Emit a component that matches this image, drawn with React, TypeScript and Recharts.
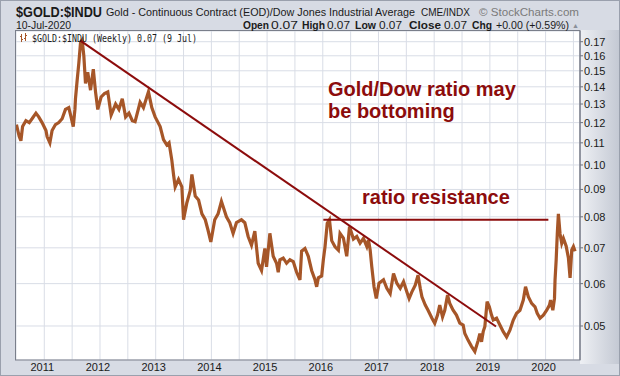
import { LineChart, Line, XAxis, YAxis, CartesianGrid, ReferenceLine } from "recharts";

// weekly Gold/Dow ratio, sampled off the chart (time in decimal years)
const dateYears = [
  2010.5, 2010.55, 2010.58, 2010.61, 2010.67, 2010.73, 2010.78, 2010.85, 2010.9, 2010.96,
  2011.03, 2011.05, 2011.1, 2011.14, 2011.2, 2011.26, 2011.32, 2011.38, 2011.44, 2011.48,
  2011.52, 2011.55, 2011.56, 2011.59, 2011.62, 2011.65, 2011.68, 2011.71, 2011.74, 2011.78,
  2011.83, 2011.88, 2011.92, 2011.96, 2012.02, 2012.08, 2012.14, 2012.2, 2012.28, 2012.34,
  2012.4, 2012.46, 2012.52, 2012.58, 2012.63, 2012.72, 2012.78, 2012.87, 2012.93, 2012.99,
  2013.08, 2013.14, 2013.2, 2013.24, 2013.29, 2013.32, 2013.35, 2013.41, 2013.47, 2013.5,
  2013.56, 2013.62, 2013.65, 2013.71, 2013.77, 2013.83, 2013.89, 2013.94, 2013.99, 2014.06,
  2014.12, 2014.18, 2014.27, 2014.33, 2014.39, 2014.45, 2014.54, 2014.6, 2014.66, 2014.72,
  2014.78, 2014.84, 2014.9, 2014.96, 2014.99, 2015.05, 2015.11, 2015.17, 2015.2, 2015.23,
  2015.29, 2015.35, 2015.41, 2015.47, 2015.53, 2015.59, 2015.62, 2015.68, 2015.74, 2015.8,
  2015.86, 2015.89, 2015.92, 2015.98, 2016.01, 2016.04, 2016.08, 2016.12, 2016.16, 2016.22,
  2016.28, 2016.31, 2016.37, 2016.43, 2016.48, 2016.55, 2016.61, 2016.67, 2016.73, 2016.79,
  2016.82, 2016.85, 2016.88, 2016.92, 2016.96, 2017.01, 2017.09, 2017.15, 2017.21, 2017.27,
  2017.33, 2017.39, 2017.45, 2017.51, 2017.55, 2017.6, 2017.66, 2017.71, 2017.75, 2017.78,
  2017.84, 2017.89, 2017.96, 2018.01, 2018.06, 2018.1, 2018.15, 2018.19, 2018.24, 2018.28,
  2018.34, 2018.4, 2018.46, 2018.52, 2018.55, 2018.61, 2018.67, 2018.73, 2018.79, 2018.82,
  2018.85, 2018.88, 2018.91, 2018.95, 2018.99, 2019.03, 2019.06, 2019.12, 2019.18, 2019.24,
  2019.3, 2019.36, 2019.42, 2019.48, 2019.54, 2019.6, 2019.64, 2019.69, 2019.75, 2019.81,
  2019.85, 2019.9, 2019.96, 2020.02, 2020.07, 2020.09, 2020.13, 2020.16, 2020.17, 2020.19,
  2020.21, 2020.23, 2020.26, 2020.29, 2020.32, 2020.37, 2020.41, 2020.44, 2020.47, 2020.5,
  2020.53,
];

const ratio = [
  0.119, 0.113, 0.111, 0.118, 0.121, 0.12, 0.122, 0.125, 0.123, 0.12,
  0.116, 0.113, 0.11, 0.116, 0.119, 0.12, 0.122, 0.127, 0.128, 0.123,
  0.118, 0.127, 0.133, 0.144, 0.155, 0.169, 0.171, 0.16, 0.142, 0.149,
  0.138, 0.151, 0.137, 0.127, 0.134, 0.136, 0.137, 0.124, 0.13, 0.127,
  0.133, 0.123, 0.125, 0.121, 0.1205, 0.131, 0.128, 0.137, 0.128, 0.123,
  0.118, 0.1115, 0.109, 0.11, 0.102, 0.096, 0.091, 0.094, 0.091, 0.079,
  0.085, 0.0895, 0.096, 0.0875, 0.086, 0.081, 0.079, 0.0755, 0.0718, 0.079,
  0.081, 0.0855, 0.08, 0.078, 0.0745, 0.078, 0.079, 0.078, 0.0735, 0.0708,
  0.0752, 0.0655, 0.0635, 0.0698, 0.0645, 0.0745, 0.0675, 0.0655, 0.063, 0.0665,
  0.067, 0.0655, 0.0665, 0.066, 0.063, 0.061, 0.069, 0.0698, 0.0675, 0.0635,
  0.061, 0.0592, 0.0615, 0.062, 0.0665, 0.0703, 0.0778, 0.079, 0.0722, 0.0703,
  0.0693, 0.0745, 0.073, 0.0675, 0.0767, 0.0727, 0.0735, 0.0714, 0.0729, 0.0704,
  0.0724, 0.0694, 0.0645, 0.0592, 0.0563, 0.0601, 0.061, 0.0588, 0.0575, 0.0627,
  0.0601, 0.0588, 0.0605, 0.0579, 0.0563, 0.0579, 0.0596, 0.0622, 0.0588, 0.0567,
  0.0547, 0.0535, 0.0517, 0.0506, 0.0524, 0.0547, 0.052, 0.0535, 0.0571, 0.0551,
  0.0535, 0.0524, 0.0506, 0.0502, 0.0484, 0.047, 0.0458, 0.0448, 0.047, 0.0484,
  0.0467, 0.0488, 0.0499, 0.0555, 0.0543, 0.0524, 0.0513, 0.0517, 0.0502, 0.0488,
  0.0477, 0.0491, 0.0513, 0.0528, 0.0535, 0.0559, 0.0592, 0.0567, 0.0551, 0.0543,
  0.0528, 0.0517, 0.0524, 0.0535, 0.0547, 0.0559, 0.0535, 0.0563, 0.061, 0.0664,
  0.0743, 0.081, 0.0743, 0.0714, 0.0729, 0.0705, 0.067, 0.0615, 0.0694, 0.0704,
  0.069,
];

const yearTicks = [
  2011, 2011.5, 2012, 2012.5, 2013, 2013.5, 2014, 2014.5, 2015, 2015.5,
  2016, 2016.5, 2017, 2017.5, 2018, 2018.5, 2019, 2019.5, 2020, 2020.5,
];
const ratioTicks = [0.05, 0.06, 0.07, 0.08, 0.09, 0.1, 0.11, 0.12, 0.13, 0.14, 0.15, 0.16, 0.17];

// hand-drawn annotation lines
const downTrend = [
  { x: 2011.64, y: 0.171 },
  { x: 2019.11, y: 0.0499 },
];
const resistance = [
  { x: 2016.01, y: 0.079 },
  { x: 2020.05, y: 0.079 },
];

const data = dateYears.map((t, i) => ({ t, ratio: ratio[i] }));

const SANS = "'Liberation Sans', Arial, sans-serif";
const RED = "#8c0c0c";

function Txt({ x, y, w, size = 11, bold = false, fill = "#1a1a1a", children }: any) {
  return (
    <text
      x={x}
      y={y}
      fontSize={size}
      fontWeight={bold ? "bold" : "normal"}
      fontFamily={SANS}
      fill={fill}
      textLength={w}
      lengthAdjust="spacingAndGlyphs"
    >
      {children}
    </text>
  );
}

export default function App() {
  return (
    <div
      style={{
        position: "absolute",
        left: 0,
        top: 0,
        width: 620,
        height: 376,
        background: "#d7dbe4",
        overflow: "hidden",
      }}
    >
      <div
        style={{
          position: "absolute",
          left: 580,
          top: 30,
          width: 40,
          height: 334,
          background: "linear-gradient(to right, #eef0f4, #c3c8d3)",
        }}
      />
      <div style={{ position: "absolute", left: 0, top: 0 }}>
        <LineChart width={620} height={376} data={data} margin={{ top: 31, right: 0, bottom: 0, left: 16 }}>
          <CartesianGrid stroke="#d9dde6" fill="#ffffff" />
          <XAxis
            dataKey="t"
            type="number"
            domain={[2010.492, 2020.618]}
            allowDataOverflow
            ticks={yearTicks}
            interval={0}
            tickFormatter={(v: number) => (Number.isInteger(v) ? String(v) : "")}
            tickLine={false}
            axisLine={false}
            tickSize={0}
            tickMargin={3}
            height={16}
            tick={{ fontSize: 11, fill: "#1a1a1a", fontFamily: SANS, dx: -2 }}
          />
          <YAxis
            orientation="right"
            type="number"
            scale="log"
            domain={[0.04319, 0.17802]}
            allowDataOverflow
            ticks={ratioTicks}
            interval={0}
            tickFormatter={(v: number) => v.toFixed(2)}
            width={40}
            tickSize={3}
            tickMargin={1}
            axisLine={{ stroke: "#6b707c" }}
            tickLine={{ stroke: "#6b707c" }}
            tick={{ fontSize: 11, fill: "#1a1a1a", fontFamily: SANS }}
          />
          <Line
            type="linear"
            dataKey="ratio"
            stroke="#a65628"
            strokeWidth={3.2}
            dot={false}
            isAnimationActive={false}
          />
          <ReferenceLine segment={downTrend} stroke={RED} strokeWidth={2} />
          <ReferenceLine segment={resistance} stroke={RED} strokeWidth={2} />
        </LineChart>
      </div>
      <svg
        width={620}
        height={376}
        style={{ position: "absolute", left: 0, top: 0, pointerEvents: "none" }}
      >
        <rect x={0.5} y={0.5} width={619} height={375} fill="none" stroke="#9aa0ad" />
        <rect x={15.5} y={30.5} width={564.5} height={329.5} fill="none" stroke="#7a7f8b" />

        <Txt x={16} y={16.5} w={86} size={14} bold>
          $GOLD:$INDU
        </Txt>
        <Txt x={106} y={16} w={309} size={11}>
          Gold - Continuous Contract (EOD)/Dow Jones Industrial Average
        </Txt>
        <Txt x={421} y={16} w={49} size={10}>
          CME/INDX
        </Txt>
        <Txt x={479} y={16} w={100} size={11} fill="#7a7a7a">
          © StockCharts.com
        </Txt>

        <Txt x={16} y={29} w={55} size={10}>
          10-Jul-2020
        </Txt>
        <Txt x={243} y={29} w={26} size={10} bold>Open</Txt>
        <Txt x={271} y={29} w={27} size={10}>0.07</Txt>
        <Txt x={302} y={29} w={23} size={10} bold>High</Txt>
        <Txt x={327} y={29} w={23} size={10}>0.07</Txt>
        <Txt x={355} y={29} w={21} size={10} bold>Low</Txt>
        <Txt x={379} y={29} w={23} size={10}>0.07</Txt>
        <Txt x={409} y={29} w={32} size={10} bold>Close</Txt>
        <Txt x={444} y={29} w={23} size={10}>0.07</Txt>
        <Txt x={472} y={29} w={20} size={10} bold>Chg</Txt>
        <Txt x={496} y={29} w={73} size={10}>+0.00 (+0.59%)</Txt>
        <Txt x={572} y={28} w={7} size={7} fill="#8a8f99">▲</Txt>

        <g stroke="#a65628" strokeWidth={1}>
          <line x1={21.5} y1={34} x2={21.5} y2={42} />
          <line x1={20} y1={36.5} x2={21.5} y2={36.5} />
          <line x1={21.5} y1={39.5} x2={23} y2={39.5} />
          <line x1={25.5} y1={33} x2={25.5} y2={41} />
          <line x1={24} y1={38.5} x2={25.5} y2={38.5} />
          <line x1={25.5} y1={35.5} x2={27} y2={35.5} />
        </g>
        <text
          x={32}
          y={41.5}
          fontSize={11}
          fontFamily="'DejaVu Sans Mono', monospace"
          fill="#1a1a1a"
          textLength={165}
          lengthAdjust="spacingAndGlyphs"
        >
          $GOLD:$INDU (Weekly) 0.07 (9 Jul)
        </text>

        <text x={328} y={96} fontSize={20} fontWeight="bold" fontFamily={SANS} fill={RED}>
          Gold/Dow ratio may
        </text>
        <text x={328} y={118} fontSize={20} fontWeight="bold" fontFamily={SANS} fill={RED}>
          be bottoming
        </text>
        <text x={362} y={204} fontSize={20} fontWeight="bold" fontFamily={SANS} fill={RED}>
          ratio resistance
        </text>
      </svg>
    </div>
  );
}
